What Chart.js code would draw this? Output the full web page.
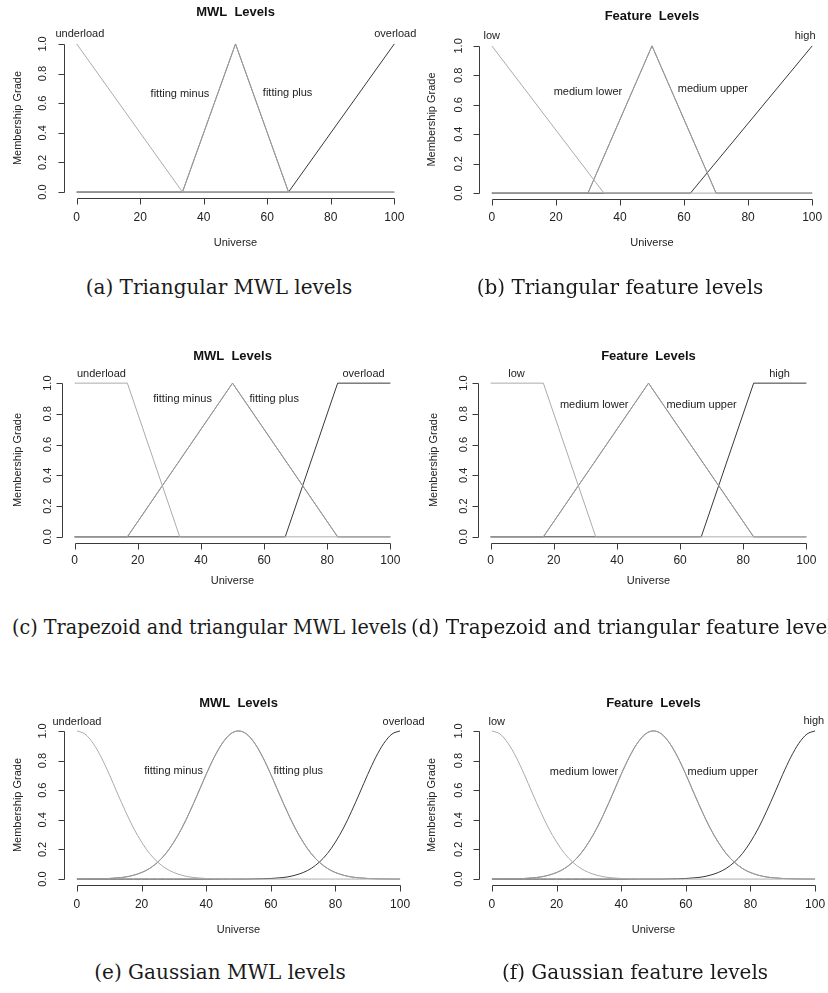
<!DOCTYPE html>
<html>
<head>
<meta charset="utf-8">
<script src="https://cdn.jsdelivr.net/npm/chart.js@4/dist/chart.umd.min.js"></script>
<style>
  body { margin: 0; background: #fff; width: 828px; height: 993px; position: relative; overflow: hidden; }
  .panel { position: absolute; }
  .cap { position: absolute; font-family: 'DejaVu Serif', serif; font-size: 20px; color: #1a1a1a; white-space: nowrap; line-height: 20px; }
  .narrow { transform: scaleX(0.958); transform-origin: left center; }
</style>
</head>
<body>
<div id="fig"></div>
<div class="cap" style="left:0;width:438px;top:277px;text-align:center">(a) Triangular MWL levels</div>
<div class="cap" style="left:414px;width:412px;top:277px;text-align:center">(b) Triangular feature levels</div>
<div class="cap narrow" style="left:12px;top:617px">(c) Trapezoid and triangular MWL levels</div>
<div class="cap" style="left:411px;top:617px">(d) Trapezoid and triangular feature levels</div>
<div class="cap" style="left:0;width:440px;top:962px;text-align:center">(e) Gaussian MWL levels</div>
<div class="cap" style="left:414px;width:442px;top:962px;text-align:center">(f) Gaussian feature levels</div>

<script>
// axis ticks
const xTicks = [0, 20, 40, 60, 80, 100];
const yTicks = [0, 0.2, 0.4, 0.6, 0.8, 1.0];

const mwlNames = ['underload', 'fitting minus', 'fitting plus', 'overload'];
const featNames = ['low', 'medium lower', 'medium upper', 'high'];
const setColors = ['#ababab', '#9a9a9a', '#858585', '#383838'];

// triangular sets (x, membership)
const triUnderload = [[0, 1], [33.3, 0], [100, 0]];
const triFitting = [[0, 0], [33.3, 0], [50, 1], [66.7, 0], [100, 0]];
const triOverload = [[0, 0], [66.7, 0], [100, 1]];
const triLow = [[0, 1], [35, 0], [100, 0]];
const triMedium = [[0, 0], [30, 0], [50, 1], [70, 0], [100, 0]];
const triHigh = [[0, 0], [62, 0], [100, 1]];

// trapezoid + triangular sets
const trapLow = [[0, 1], [16.7, 1], [33.3, 0], [100, 0]];
const trapMedium = [[0, 0], [16.7, 0], [50, 1], [83.3, 0], [100, 0]];
const trapHigh = [[0, 0], [66.7, 0], [83.3, 1], [100, 1]];

// gaussian sets, read every 2.5 units
const gaussX = [0, 2.5, 5, 7.5, 10, 12.5, 15, 17.5, 20, 22.5, 25, 27.5, 30, 32.5, 35, 37.5, 40, 42.5, 45, 47.5,
  50, 52.5, 55, 57.5, 60, 62.5, 65, 67.5, 70, 72.5, 75, 77.5, 80, 82.5, 85, 87.5, 90, 92.5, 95, 97.5, 100];
const gaussLow = [1.000, 0.979, 0.917, 0.823, 0.707, 0.581, 0.458, 0.345, 0.250, 0.172, 0.114, 0.072, 0.044, 0.026, 0.014, 0.008, 0.004, 0.002, 0.001, 0.000,
  0, 0, 0, 0, 0, 0, 0, 0, 0, 0, 0, 0, 0, 0, 0, 0, 0, 0, 0, 0, 0];
const gaussMid = [0.000, 0.000, 0.001, 0.002, 0.004, 0.008, 0.014, 0.026, 0.044, 0.072, 0.114, 0.172, 0.250, 0.345, 0.458, 0.581, 0.707, 0.823, 0.917, 0.979,
  1.000, 0.979, 0.917, 0.823, 0.707, 0.581, 0.458, 0.345, 0.250, 0.172, 0.114, 0.072, 0.044, 0.026, 0.014, 0.008, 0.004, 0.002, 0.001, 0.000, 0.000];
const gaussHigh = [0, 0, 0, 0, 0, 0, 0, 0, 0, 0, 0, 0, 0, 0, 0, 0, 0, 0, 0, 0,
  0, 0.000, 0.001, 0.002, 0.004, 0.008, 0.014, 0.026, 0.044, 0.072, 0.114, 0.172, 0.250, 0.345, 0.458, 0.581, 0.707, 0.823, 0.917, 0.979, 1.000];

// set label anchors (x, y in data units)
const labelsA = [[1, 1.07], [32.5, 0.66], [66.4, 0.67], [100.3, 1.07]];
const labelsB = [[0, 1.07], [30, 0.69], [69, 0.71], [97.8, 1.07]];
const labelsC = [[8.5, 1.06], [34.2, 0.90], [63.2, 0.90], [91.5, 1.06]];
const labelsD = [[8.2, 1.06], [32.8, 0.86], [66.8, 0.86], [91.5, 1.06]];
const labelsE = [[0, 1.06], [29.9, 0.73], [68.5, 0.73], [101.1, 1.06]];
const labelsF = [[1.5, 1.06], [28.5, 0.72], [71.4, 0.72], [99.6, 1.07]];

const pts = arr => arr.map(p => ({ x: p[0], y: p[1] }));
const gpts = ys => gaussX.map((x, i) => ({ x, y: ys[i] }));

const panels = [
  { box: [0, 0, 430, 255], pad: { left: 64, top: 38, right: 23, bottom: 57 }, title: 'MWL  Levels', titleY: 12, tickY: 20, axisY: 45, yTickX: -21, yTitleX: -46,
    names: mwlNames, labels: labelsA, sets: [pts(triUnderload), pts(triFitting), pts(triFitting), pts(triOverload)], smooth: false },
  { box: [414, 0, 414, 255], pad: { left: 65, top: 40, right: 3, bottom: 56 }, title: 'Feature  Levels', titleY: 16, tickY: 19, axisY: 44, yTickX: -20, yTitleX: -47,
    names: featNames, labels: labelsB, sets: [pts(triLow), pts(triMedium), pts(triMedium), pts(triHigh)], smooth: false },
  { box: [0, 340, 430, 255], pad: { left: 62, top: 37, right: 27, bottom: 52 }, title: 'MWL  Levels', titleY: 16, tickY: 18, axisY: 38, yTickX: -14, yTitleX: -44,
    names: mwlNames, labels: labelsC, sets: [pts(trapLow), pts(trapMedium), pts(trapMedium), pts(trapHigh)], smooth: false },
  { box: [414, 340, 414, 255], pad: { left: 64, top: 37, right: 9, bottom: 52 }, title: 'Feature  Levels', titleY: 16, tickY: 18, axisY: 38, yTickX: -14, yTitleX: -44,
    names: featNames, labels: labelsD, sets: [pts(trapLow), pts(trapMedium), pts(trapMedium), pts(trapHigh)], smooth: false },
  { box: [0, 660, 430, 285], pad: { left: 64, top: 65, right: 17, bottom: 60 }, title: 'MWL  Levels', titleY: 43, tickY: 20, axisY: 45, yTickX: -21, yTitleX: -46,
    names: mwlNames, labels: labelsE, sets: [gpts(gaussLow), gpts(gaussMid), gpts(gaussMid), gpts(gaussHigh)], smooth: true },
  { box: [414, 660, 414, 285], pad: { left: 65, top: 65, right: 0, bottom: 60 }, title: 'Feature  Levels', titleY: 43, tickY: 20, axisY: 45, yTickX: -20, yTitleX: -47,
    names: featNames, labels: labelsF, sets: [gpts(gaussLow), gpts(gaussMid), gpts(gaussMid), gpts(gaussHigh)], smooth: true }
];

const FONT = '"Liberation Sans", Arial, sans-serif';

// R-style axes, titles and set names
const rAxes = {
  id: 'rAxes',
  afterDraw(chart, args, o) {
    const { ctx, chartArea: area, scales: { x, y } } = chart;
    ctx.save();
    ctx.strokeStyle = '#3a3a3a';
    ctx.lineWidth = 1;
    ctx.beginPath();
    const by = Math.round(area.bottom) + 0.5;
    ctx.moveTo(Math.round(x.getPixelForValue(xTicks[0])) + 0.5, by);
    ctx.lineTo(Math.round(x.getPixelForValue(xTicks[xTicks.length - 1])) + 0.5, by);
    xTicks.forEach(v => {
      const px = Math.round(x.getPixelForValue(v)) + 0.5;
      ctx.moveTo(px, by);
      ctx.lineTo(px, by + 6);
    });
    const lx = Math.round(area.left) + 0.5;
    ctx.moveTo(lx, Math.round(y.getPixelForValue(yTicks[0])) + 0.5);
    ctx.lineTo(lx, Math.round(y.getPixelForValue(yTicks[yTicks.length - 1])) + 0.5);
    yTicks.forEach(v => {
      const py = Math.round(y.getPixelForValue(v)) + 0.5;
      ctx.moveTo(lx, py);
      ctx.lineTo(lx - 6, py);
    });
    ctx.stroke();

    ctx.fillStyle = '#222';
    ctx.textAlign = 'center';
    ctx.textBaseline = 'middle';
    ctx.font = '12px ' + FONT;
    xTicks.forEach(v => ctx.fillText(String(v), x.getPixelForValue(v), area.bottom + o.tickY));
    ctx.font = '11px ' + FONT;
    const cx = (area.left + area.right) / 2;
    ctx.fillText('Universe', cx, area.bottom + o.axisY);

    yTicks.forEach(v => {
      ctx.save();
      ctx.translate(area.left + o.yTickX, y.getPixelForValue(v));
      ctx.rotate(-Math.PI / 2);
      ctx.font = '11px ' + FONT;
      ctx.fillText(v.toFixed(1), 0, 0);
      ctx.restore();
    });
    ctx.save();
    ctx.translate(area.left + o.yTitleX, y.getPixelForValue(0.5));
    ctx.rotate(-Math.PI / 2);
    ctx.font = '11px ' + FONT;
    ctx.fillText('Membership Grade', 0, 0);
    ctx.restore();

    ctx.font = 'bold 13px ' + FONT;
    ctx.fillStyle = '#111';
    ctx.fillText(o.title, cx, o.titleY);

    ctx.font = '11px ' + FONT;
    ctx.fillStyle = '#222';
    o.names.forEach((name, i) => {
      const [lxv, lyv] = o.labels[i];
      ctx.fillText(name, x.getPixelForValue(lxv), y.getPixelForValue(lyv));
    });
    ctx.restore();
  }
};

const fig = document.getElementById('fig');
panels.forEach(p => {
  const [left, top, w, h] = p.box;
  const div = document.createElement('div');
  div.className = 'panel';
  div.style.cssText = `left:${left}px;top:${top}px;width:${w}px;height:${h}px`;
  const canvas = document.createElement('canvas');
  canvas.width = w;
  canvas.height = h;
  div.appendChild(canvas);
  fig.appendChild(div);

  new Chart(canvas, {
    type: 'line',
    data: {
      datasets: p.sets.map((data, i) => ({
        label: p.names[i],
        data,
        borderColor: setColors[i],
        borderWidth: 1,
        pointRadius: 0,
        fill: false,
        tension: 0,
        cubicInterpolationMode: p.smooth ? 'monotone' : 'default'
      }))
    },
    options: {
      responsive: false,
      animation: false,
      layout: { padding: p.pad, autoPadding: false },
      plugins: {
        legend: { display: false },
        tooltip: { enabled: false },
        rAxes: { title: p.title, titleY: p.titleY, tickY: p.tickY, axisY: p.axisY, yTickX: p.yTickX, yTitleX: p.yTitleX, names: p.names, labels: p.labels }
      },
      scales: {
        x: { type: 'linear', min: -4, max: 104, display: false },
        y: { type: 'linear', min: -0.04, max: 1.04, display: false }
      }
    },
    plugins: [rAxes]
  });
});
</script>
</body>
</html>
